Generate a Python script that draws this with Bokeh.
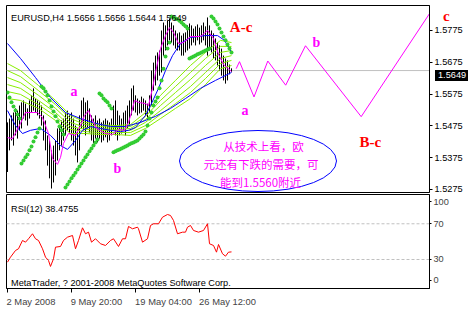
from bokeh.plotting import figure
from bokeh.models import Range1d, FixedTicker, Label, Span, PrintfTickFormatter, Div
from bokeh.layouts import column
from bokeh.embed import file_html
from bokeh.resources import INLINE

# ---------------- data ----------------
high = [1.5486,1.5498,1.5508,1.5517,1.5530,1.5523,1.5539,1.5549,1.5555,1.5545,
        1.5530,1.5555,1.5571,1.5593,1.5561,1.5555,1.5549,1.5539,1.5508,1.5492,
        1.5445,1.5429,1.5398,1.5413,1.5429,1.5467,1.5476,1.5492,1.5498,1.5517,
        1.5523,1.5508,1.5517,1.5498,1.5476,1.5467,1.5508,1.5555,1.5564,1.5549,
        1.5555,1.5530,1.5508,1.5498,1.5508,1.5492,1.5498,1.5486,1.5492,1.5498,
        1.5492,1.5486,1.5498,1.5539,1.5555,1.5523,1.5508,1.5498,1.5517,1.5523,
        1.5539,1.5555,1.5593,1.5602,1.5571,1.5561,1.5555,1.5567,1.5561,1.5555,
        1.5545,1.5571,1.5649,1.5674,1.5696,1.5706,1.5712,1.5775,1.5800,1.5791,
        1.5806,1.5813,1.5800,1.5791,1.5775,1.5766,1.5769,1.5759,1.5766,1.5769,
        1.5791,1.5797,1.5791,1.5781,1.5788,1.5794,1.5784,1.5791,1.5800,1.5788,
        1.5816,1.5791,1.5775,1.5766,1.5750,1.5737,1.5728,1.5718,1.5696,1.5687,
        1.5681,1.5668,1.5656]
low = [1.5330,1.5398,1.5429,1.5413,1.5445,1.5435,1.5461,1.5467,1.5498,1.5492,
       1.5476,1.5498,1.5517,1.5523,1.5517,1.5508,1.5498,1.5476,1.5429,1.5398,
       1.5350,1.5310,1.5278,1.5297,1.5319,1.5366,1.5398,1.5413,1.5429,1.5445,
       1.5461,1.5451,1.5429,1.5413,1.5382,1.5360,1.5398,1.5467,1.5461,1.5445,
       1.5467,1.5454,1.5429,1.5420,1.5435,1.5423,1.5435,1.5423,1.5429,1.5439,
       1.5423,1.5429,1.5445,1.5461,1.5445,1.5429,1.5445,1.5451,1.5461,1.5445,
       1.5467,1.5476,1.5508,1.5523,1.5517,1.5508,1.5514,1.5517,1.5523,1.5508,
       1.5498,1.5517,1.5539,1.5586,1.5602,1.5618,1.5633,1.5643,1.5696,1.5712,
       1.5728,1.5744,1.5737,1.5728,1.5718,1.5712,1.5712,1.5696,1.5696,1.5706,
       1.5712,1.5718,1.5728,1.5737,1.5728,1.5744,1.5731,1.5737,1.5744,1.5728,
       1.5696,1.5712,1.5706,1.5687,1.5681,1.5665,1.5649,1.5633,1.5618,1.5608,
       1.5618,1.5637,1.5644]
sar = [1.5580,1.5564,1.5549,1.5536,1.5523,1.5511,1.5498,
       1.5357,1.5366,1.5376,1.5385,1.5398,1.5410,1.5426,1.5439,1.5454,1.5467,
       1.5599,1.5593,1.5583,1.5571,1.5555,1.5536,1.5520,1.5505,1.5489,1.5473,1.5461,1.5448,
       1.5281,1.5291,1.5300,1.5310,1.5319,1.5328,1.5338,1.5347,1.5357,1.5366,1.5376,1.5385,
       1.5395,1.5404,1.5413,1.5423,1.5432,
       1.5577,1.5571,1.5561,1.5555,1.5549,1.5539,1.5530,
       1.5392,1.5395,1.5398,1.5401,1.5404,1.5407,1.5410,1.5413,1.5417,1.5420,1.5423,1.5426,
       1.5429,1.5435,1.5442,1.5448,1.5457,1.5476,1.5498,1.5517,1.5539,1.5552,1.5564,1.5593,
       1.5618,1.5655,1.5693,1.5718,1.5737,
       1.5819,1.5816,1.5813,1.5810,1.5806,1.5800,1.5794,1.5788,1.5781,
       1.5687,1.5690,1.5693,1.5696,1.5700,1.5703,1.5706,1.5709,1.5712,1.5715,1.5718,
       1.5819,1.5813,1.5803,1.5794,1.5781,1.5769,1.5756,1.5744,1.5731,1.5718,1.5706]
bar_idx = list(range(len(high)))

ma_idx = [0, 6.5, 15.5, 24, 31.5, 39, 46.5, 54, 61.5, 69, 76.5, 84, 91.5, 99, 106.5, 112]
ribbon = [
    [1.5671,1.5649,1.5602,1.5555,1.5508,1.5486,1.5479,1.5476,1.5479,1.5517,1.5571,1.5618,1.5665,1.5706,1.5744,1.5737],
    [1.5649,1.5630,1.5586,1.5542,1.5498,1.5479,1.5473,1.5470,1.5473,1.5505,1.5555,1.5599,1.5643,1.5687,1.5725,1.5725],
    [1.5627,1.5611,1.5571,1.5530,1.5486,1.5470,1.5467,1.5464,1.5467,1.5495,1.5539,1.5580,1.5621,1.5665,1.5706,1.5712],
    [1.5605,1.5593,1.5555,1.5517,1.5473,1.5464,1.5461,1.5461,1.5461,1.5486,1.5523,1.5561,1.5599,1.5643,1.5687,1.5696],
    [1.5583,1.5574,1.5542,1.5505,1.5464,1.5457,1.5454,1.5454,1.5454,1.5476,1.5511,1.5545,1.5580,1.5624,1.5671,1.5681],
    [1.5561,1.5555,1.5530,1.5492,1.5451,1.5451,1.5448,1.5448,1.5445,1.5467,1.5498,1.5530,1.5561,1.5605,1.5655,1.5665],
]
slow_idx = [0, 6.5, 14, 21.5, 29, 36.5, 44, 51.5, 59, 66.5, 74, 81.5, 89, 96.5, 104, 112]
slow_ma = [1.5734,1.5687,1.5627,1.5564,1.5517,1.5498,1.5483,1.5473,1.5473,1.5486,1.5505,1.5530,1.5561,1.5593,1.5618,1.5643]
fast_idx = [0,4,7.5,11.5,16.5,21.5,26.5,30,34,37.5,41.5,46.5,51.5,56.5,60.5,64,69,71.5,75.5,79,82.5,86.5,91.5,99,105,108.5,112]
fast_ma = [1.5523,1.5476,1.5451,1.5461,1.5467,1.5445,1.5413,1.5401,1.5429,1.5461,1.5473,1.5467,1.5461,1.5457,1.5461,1.5470,
           1.5508,1.5539,1.5593,1.5649,1.5696,1.5734,1.5753,1.5759,1.5759,1.5744,1.5706]
mag_idx = [0,2.5,6.5,9,15,17.5,20.5,22.5,25,26.5,28,30.5,34,36.5,38.5,40.5,42.5,44.5,49,52.5,55.5,58.5,60.5,62,63.5,65.5,
           69,70.5,72.5,74,76.5,79,81,83,85.5,88,91.5,96.5,100,103,105.5,108,112]
mag_ma = [1.5438,1.5435,1.5483,1.5517,1.5517,1.5501,1.5451,1.5372,1.5354,1.5376,1.5420,1.5451,1.5445,1.5476,1.5508,1.5523,
          1.5492,1.5467,1.5451,1.5448,1.5464,1.5461,1.5486,1.5517,1.5555,1.5549,1.5545,1.5539,1.5593,1.5643,1.5718,1.5759,
          1.5784,1.5769,1.5734,1.5737,1.5756,1.5756,1.5775,1.5750,1.5700,1.5668,1.5646]

wave_idx = [114.35, 116, 123.25, 130.15, 139.1, 149, 176.85, 211]
wave_px = [1.5655, 1.5677, 1.5566, 1.5679, 1.5603, 1.5727, 1.5504, 1.5828]

rsi_x = [0,1.5,4,5.5,7.5,9,10.5,12.5,14,15.5,17.5,19,20.5,21.5,23,24,26.5,28,30,32.5,34,35.5,37.5,39,40.5,42,44,46.5,49,
         51.5,53,55.5,57.5,59,60.5,62.5,65,65.5,67.5,70,71.5,73,75.5,77.5,80,81.5,83,85,87.5,89,90,91.5,93,95.5,98,100,101,
         103,104.5,105.5,107.5,109,110.5,112]
rsi_v = [27.0,32.6,40.1,42.0,51.3,49.4,53.2,58.8,53.2,51.3,42.0,32.6,28.9,22.2,30.8,43.8,44.6,51.3,55.0,56.9,42.0,51.3,
         65.5,58.8,60.6,49.4,53.2,47.6,45.7,51.3,53.2,44.6,53.2,53.2,67.0,64.4,66.2,64.4,49.4,53.2,68.1,70.0,70.0,77.4,
         80.4,79.3,73.7,58.8,60.6,60.6,66.2,68.1,62.5,60.6,62.5,70.0,47.6,45.7,38.2,46.8,36.4,33.7,38.2,38.5]

price_ticks = [1.5275, 1.5375, 1.5475, 1.5575, 1.5675, 1.5775]
last_price = 1.5649
rsi_levels = [70, 30]
date_ticks = [0, 32, 64, 96]
date_label_pos = [11.75, 44.5, 78.0, 110.0]
date_labels = ["2 May 2008", "9 May 20:00", "19 May 04:00", "26 May 12:00"]
header = "EURUSD,H4  1.5656 1.5656 1.5644 1.5649"
rsi_header = "RSI(12) 38.4755"
copyright_txt = "MetaTrader, ? 2001-2008 MetaQuotes Software Corp."
note_lines = ["从技术上看，欧", "元还有下跌的需要，可", "能到1.5560附近"]

# ---------------- layout helpers ----------------
X0, X1 = -0.5, 211.0
Y0, Y1 = 1.52655, 1.58536
R0, R1 = -2.5, 102.8
def px_x(px):
    return X0 + (px - 6) / 2.0
def px_y(py):
    return Y1 - (py - 5) * (Y1 - Y0) / 187.0
def px_r(py):
    return R1 - (py - 194) * (R1 - R0) / 94.0
def y_px(price):
    return 5 + (Y1 - price) * 187.0 / (Y1 - Y0)

FONT = "Liberation Sans"
SMALL = "9.2px"
MAG = "#ff00ff"
RED = "#ff0000"

# ---------------- main price panel ----------------
p = figure(frame_width=423, frame_height=187, x_range=Range1d(X0, X1), y_range=Range1d(Y0, Y1),
           output_backend="svg", toolbar_location=None, x_axis_location=None, y_axis_location="right",
           min_border_left=6, min_border_right=42, min_border_top=5, min_border_bottom=1,
           background_fill_color="white", border_fill_color="white")
p.grid.visible = False
p.outline_line_color = "black"
p.outline_line_alpha = 1.0
ya = p.yaxis[0]
ya.ticker = FixedTicker(ticks=price_ticks)
ya.formatter = PrintfTickFormatter(format="%.4f")
ya.major_tick_out = 3
ya.major_tick_in = 0
ya.minor_tick_out = 0
ya.minor_tick_in = 0
ya.major_label_standoff = 2
ya.major_label_text_font = FONT
ya.major_label_text_font_size = SMALL
ya.major_label_text_color = "black"
ya.axis_line_color = "black"

p.add_layout(Span(location=last_price, dimension="width", line_color="#c0c0c0", line_width=1, level="underlay"))

p.segment(x0=bar_idx, y0=low, x1=bar_idx, y1=high, line_color="black", line_width=1)
for r in ribbon:
    p.line(ma_idx, r, line_color="#88ee00", line_width=1)
p.line(slow_idx, slow_ma, line_color="#0000ff", line_width=1)
p.line(fast_idx, fast_ma, line_color="#0000ff", line_width=1)
p.line(mag_idx, mag_ma, line_color=MAG, line_width=1)
p.scatter(bar_idx, sar, marker="circle", size=4, fill_color="#33cc33", line_color=None)

p.line(wave_idx, wave_px, line_color=MAG, line_width=1)

# ellipse and note
p.ellipse(x=[px_x(257.5)], y=[px_y(160.5)], width=[157 / 2.0], height=[61 * (Y1 - Y0) / 187.0],
          fill_color=None, line_color="#0000ff", line_width=1)
for txt, cx, cy in zip(note_lines, [263, 260.5, 260], [145, 163.3, 181]):
    p.add_layout(Label(x=px_x(cx), y=px_y(cy), text=txt, text_align="center", text_baseline="middle",
                       text_font="Noto Sans CJK SC", text_font_size="11.5px", text_color=MAG))

def wave_label(txt, lx, by, color, size):
    p.add_layout(Label(x=px_x(lx), y=px_y(by), text=txt, text_align="left", text_baseline="alphabetic",
                       text_font="Liberation Serif", text_font_style="bold", text_font_size=size,
                       text_color=color))

wave_label("A-c", 229.3, 26.7, RED, "15px")
wave_label("b", 312, 41.7, MAG, "14px")
wave_label("a", 241, 110, MAG, "14px")
wave_label("B-c", 359, 141, RED, "15px")
wave_label("a", 70, 91, MAG, "14px")
wave_label("b", 113, 168, MAG, "14px")

p.add_layout(Label(x=px_x(10.5), y=px_y(17.3), text=header, text_align="left", text_baseline="alphabetic",
                   text_font=FONT, text_font_size=SMALL, text_color="black"))

# ---------------- RSI panel ----------------
q = figure(frame_width=423, frame_height=94, x_range=p.x_range, y_range=Range1d(R0, R1),
           output_backend="svg", toolbar_location=None, y_axis_location="right",
           min_border_left=6, min_border_right=42, min_border_top=1, min_border_bottom=21,
           background_fill_color="white", border_fill_color="white")
q.grid.visible = False
q.outline_line_color = "black"
q.outline_line_alpha = 1.0
ra = q.yaxis[0]
ra.ticker = FixedTicker(ticks=[94.5, 70, 30, 6.5])
ra.major_label_overrides = {94.5: "100", 70: "70", 30: "30", 6.5: "0"}
ra.major_tick_out = 2
ra.major_tick_in = 0
ra.minor_tick_out = 0
ra.minor_tick_in = 0
ra.major_label_standoff = 2
ra.major_label_text_font = FONT
ra.major_label_text_font_size = SMALL
ra.axis_line_color = "black"
xa = q.xaxis[0]
xa.ticker = FixedTicker(ticks=date_label_pos, minor_ticks=date_ticks)
xa.major_label_overrides = dict(zip(date_label_pos, date_labels))
xa.major_label_text_font = FONT
xa.major_label_text_font_size = "9.4px"
xa.major_label_standoff = 3
xa.major_tick_out = 0
xa.major_tick_in = 0
xa.minor_tick_out = 4
xa.minor_tick_in = 0
xa.axis_line_color = "black"

for lv in rsi_levels:
    q.add_layout(Span(location=lv, dimension="width", line_color="#c0c0c0", line_width=1, line_dash="3 2",
                      level="underlay"))
q.line(rsi_x, rsi_v, line_color=RED, line_width=1)

q.add_layout(Label(x=px_x(10.5), y=px_r(208.3), text=rsi_header, text_align="left", text_baseline="alphabetic",
                   text_font=FONT, text_font_size=SMALL, text_color="black"))
q.add_layout(Label(x=px_x(10.5), y=px_r(282.3), text=copyright_txt, text_align="left", text_baseline="alphabetic",
                   text_font=FONT, text_font_size=SMALL, text_color="black"))

# texts that sit over the price-scale column (outside the plot frame)
box_top = round(y_px(last_price)) - 5
price_box = Div(text=f"{last_price:.4f}", width=33, height=11,
                styles={"position": "absolute", "left": "430px", "top": f"{box_top}px",
                        "background-color": "black", "color": "white", "font-family": FONT,
                        "font-size": SMALL, "line-height": "11px", "padding": "0px 0px 0px 3px",
                        "box-sizing": "border-box", "overflow": "hidden", "z-index": "5"})
wave_c = Div(text="c", width=12, height=16,
             styles={"position": "absolute", "left": "438px", "top": "3px", "color": RED,
                     "font-family": "Liberation Serif", "font-weight": "bold", "font-size": "15px",
                     "line-height": "16px", "z-index": "5"})

layout = column(p, q, price_box, wave_c, spacing=0)
open("out.html", "w").write(file_html(layout, INLINE))
